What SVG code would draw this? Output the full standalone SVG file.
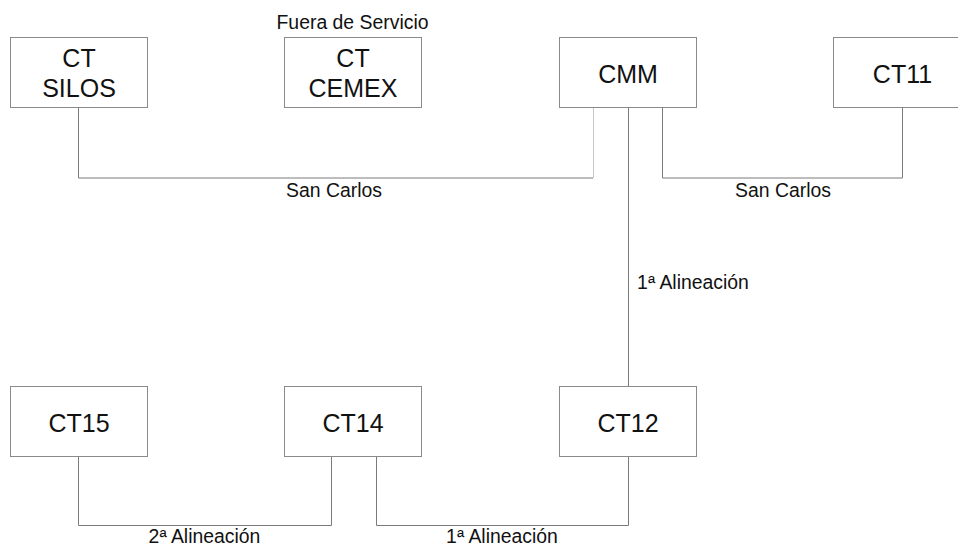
<svg xmlns="http://www.w3.org/2000/svg" width="958" height="547" viewBox="0 0 958 547">
<style>
.box{fill:#fff;stroke:#8a8a8a;stroke-width:1}
.t{font-family:"Liberation Sans",Arial,sans-serif;font-size:25px;fill:#111;text-anchor:middle}
.l{font-family:"Liberation Sans",Arial,sans-serif;font-size:19.4px;fill:#111;text-anchor:middle}
.c{fill:none;stroke:#7a7a7a;stroke-width:1}
.faint{stroke:#c8c8c8}
</style>
<rect width="958" height="547" fill="#fff"/>
<g id="connectors">
<polyline class="c" points="78.5,108 78.5,178 593,178"/>
<line class="c faint" x1="593.5" y1="108" x2="593.5" y2="178"/>
<polyline class="c" points="662.5,108 662.5,178 902.5,178 902.5,108"/>
<line class="c" x1="628.5" y1="108" x2="628.5" y2="387"/>
<polyline class="c" points="78.5,457 78.5,525.5 331.5,525.5 331.5,457"/>
<polyline class="c" points="376.5,457 376.5,525.5 628.5,525.5 628.5,457"/>
<text class="l" x="334" y="196.5">San Carlos</text>
<text class="l" x="783" y="196.5">San Carlos</text>
<text class="l" x="693" y="289">1ª Alineación</text>
<text class="l" x="204.5" y="543">2ª Alineación</text>
<text class="l" x="502" y="543">1ª Alineación</text>
</g>
<g id="ct-silos"><rect class="box" x="10.5" y="37.5" width="137" height="70"/><text class="t" x="79" y="66.5">CT</text><text class="t" x="79" y="96.5">SILOS</text></g>
<g id="ct-cemex"><rect class="box" x="284.5" y="37.5" width="137" height="70"/><text class="t" x="353" y="66.5">CT</text><text class="t" x="353" y="96.5">CEMEX</text><text class="l" x="352.5" y="29">Fuera de Servicio</text></g>
<g id="cmm"><rect class="box" x="559.5" y="37.5" width="137" height="70"/><text class="t" x="628" y="83">CMM</text></g>
<g id="ct11"><rect class="box" x="833.5" y="37.5" width="137" height="70"/><text class="t" x="902.5" y="83">CT11</text></g>
<g id="ct15"><rect class="box" x="10.5" y="386.5" width="137" height="70"/><text class="t" x="79" y="431.5">CT15</text></g>
<g id="ct14"><rect class="box" x="284.5" y="386.5" width="137" height="70"/><text class="t" x="353" y="431.5">CT14</text></g>
<g id="ct12"><rect class="box" x="559.5" y="386.5" width="137" height="70"/><text class="t" x="628" y="431.5">CT12</text></g>
</svg>
